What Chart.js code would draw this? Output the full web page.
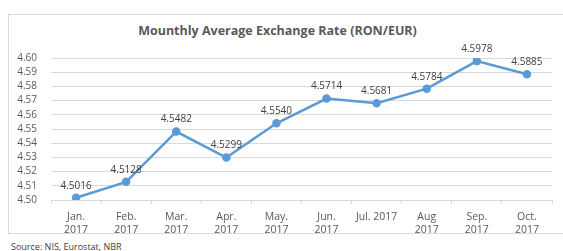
<!DOCTYPE html>
<html>
<head>
<meta charset="utf-8">
<script src="https://cdn.jsdelivr.net/npm/chart.js@4/dist/chart.umd.min.js"></script>
<style>
  body { margin: 0; background: #fff; width: 563px; height: 251px; overflow: hidden; position: relative; font-family: "Open Sans", sans-serif; }
  #box { position: absolute; left: 8px; top: 14px; width: 570px; height: 218px; border: 1px solid #d9d9d9; border-right: none; }
  #title { position: absolute; left: -4px; width: 563px; top: 22px; text-align: center; font: bold 12.5px "Open Sans", sans-serif; color: #595959; }
  #wrap { position: absolute; left: 0; top: 0; width: 563px; height: 240px; }
  #source { position: absolute; left: 11px; top: 240px; font: 9px "Open Sans", sans-serif; color: #404040; }
</style>
</head>
<body>
<div id="box"></div>
<div id="title">Mounthly Average Exchange Rate (RON/EUR)</div>
<div id="wrap"><canvas id="myChart"></canvas></div>
<div id="source">Source: NIS, Eurostat, NBR</div>
<script>
const months = [
    ['Jan.', '2017'], ['Feb.', '2017'], ['Mar.', '2017'], ['Apr.', '2017'], ['May.', '2017'],
    ['Jun.', '2017'], 'Jul. 2017', ['Aug', '2017'], ['Sep.', '2017'], ['Oct.', '2017']
];
const rates = [4.5016, 4.5128, 4.5482, 4.5299, 4.5540, 4.5714, 4.5681, 4.5784, 4.5978, 4.5885];
const yMin = 4.50;
const yMax = 4.60;

// labels above each point
const valueLabels = {
    id: 'valueLabels',
    afterDatasetsDraw(chart) {
        const ctx = chart.ctx;
        const meta = chart.getDatasetMeta(0);
        ctx.save();
        ctx.font = '10px "Open Sans", sans-serif';
        ctx.fillStyle = '#404040';
        ctx.textAlign = 'center';
        ctx.textBaseline = 'bottom';
        meta.data.forEach((pt, i) => {
            ctx.fillText(rates[i].toFixed(4), pt.x, pt.y - 7);
        });
        ctx.restore();
    }
};

const ctx = document.getElementById('myChart').getContext('2d');
const chart = new Chart(ctx, {
    type: 'line',
    data: {
        labels: months,
        datasets: [{
            data: rates,
            borderColor: '#5b9bd5',
            backgroundColor: '#5b9bd5',
            borderWidth: 2.5,
            pointRadius: 3,
            pointHoverRadius: 3,
            tension: 0
        }]
    },
    options: {
        responsive: true,
        maintainAspectRatio: false,
        animation: false,
        layout: { padding: { left: 0, right: 11, top: 58, bottom: 0 } },
        plugins: {
            legend: { display: false },
            title: { display: false },
            tooltip: { enabled: false }
        },
        scales: {
            x: {
                offset: true,
                grid: { offset: true, drawOnChartArea: false, drawTicks: true, tickLength: 4, color: '#d9d9d9' },
                border: { color: '#d9d9d9' },
                ticks: { color: '#595959', font: { size: 10.5, family: '"Open Sans", sans-serif', lineHeight: 1.25 }, maxRotation: 0, autoSkip: false, padding: 6 },
                afterFit(scale) { scale.height = 40; }
            },
            y: {
                min: yMin,
                max: yMax,
                grid: { color: '#d9d9d9', drawTicks: false },
                border: { display: false },
                ticks: {
                    stepSize: 0.01,
                    autoSkip: false,
                    color: '#595959',
                    font: { size: 10, family: '"Open Sans", sans-serif' },
                    padding: 14,
                    callback: (v) => v.toFixed(2)
                },
                afterFit(scale) { scale.width = 51; }
            }
        }
    },
    plugins: [valueLabels]
});
</script>
</body>
</html>
